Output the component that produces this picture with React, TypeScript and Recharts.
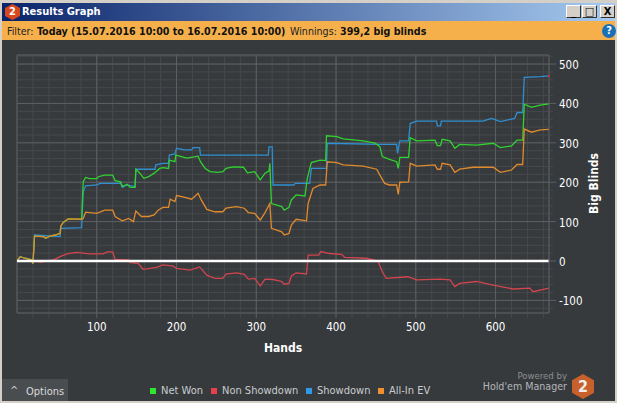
import React from "react";
import {
  LineChart,
  Line,
  XAxis,
  YAxis,
  CartesianGrid,
  ReferenceLine,
  ReferenceDot,
  Label,
} from "recharts";

// [hand, big blinds]
const netWon: number[][] = [
  [0, 0], [4, 11], [10, 7], [18, 3], [20, -6], [22, 63], [33, 62], [36, 58], [41, 63], [48, 66], [54, 70],
  [55, 89], [58, 98], [64, 107], [81, 106], [83, 201], [86, 212], [91, 209], [100, 209], [102, 214], [110, 218],
  [120, 218], [123, 204], [130, 201], [132, 189], [138, 195], [142, 187], [148, 187], [149, 233], [154, 223],
  [159, 210], [165, 214], [172, 223], [179, 235], [183, 237], [190, 235], [191, 256], [198, 252], [199, 269],
  [213, 261], [227, 266], [230, 252], [236, 235], [242, 227], [252, 225], [258, 227], [262, 235], [271, 239],
  [284, 238], [289, 224], [298, 227], [305, 206], [311, 223], [316, 229], [317, 248], [319, 146], [332, 138],
  [335, 129], [341, 136], [344, 155], [350, 168], [361, 165], [364, 210], [369, 250], [380, 256], [387, 255],
  [388, 318], [401, 316], [409, 310], [434, 305], [449, 299], [455, 290], [458, 265], [467, 258], [476, 252],
  [478, 235], [480, 263], [491, 263], [493, 313], [501, 305], [524, 307], [527, 293], [531, 293], [533, 309],
  [543, 305], [549, 286], [555, 296], [576, 294], [597, 299], [606, 288], [620, 292], [627, 307], [634, 307],
  [636, 398], [645, 390], [656, 396], [667, 399],
];

const nonShowdown: number[][] = [
  [0, 0], [20, 0], [30, -3], [40, 1], [46, 3], [56, 13], [64, 19], [75, 22], [91, 18], [108, 18], [113, 23],
  [120, 23], [123, 4], [140, 3], [142, -4], [152, -6], [158, -21], [175, -16], [183, -10], [196, -13], [200, -19],
  [217, -23], [229, -15], [238, -36], [248, -44], [258, -44], [262, -33], [275, -30], [285, -34], [290, -46],
  [298, -44], [305, -63], [311, -46], [321, -47], [332, -52], [335, -59], [341, -57], [344, -38], [350, -30],
  [363, -33], [365, 15], [378, 15], [381, 24], [392, 19], [407, 17], [411, 9], [438, 7], [453, 0], [455, -13],
  [459, -31], [463, -44], [490, -40], [501, -48], [530, -46], [543, -48], [549, -65], [555, -57], [576, -52],
  [597, -61], [622, -71], [643, -69], [647, -78], [667, -69],
];

const showdown: number[][] = [
  [0, 0], [4, 11], [10, 7], [18, 3], [20, -6], [22, 66], [54, 62], [55, 83], [81, 85], [83, 176], [86, 191],
  [100, 193], [104, 197], [130, 197], [132, 187], [138, 193], [148, 189], [149, 233], [173, 233], [174, 244],
  [183, 248], [190, 248], [191, 269], [198, 272], [200, 286], [210, 282], [219, 282], [221, 288], [229, 288],
  [230, 269], [315, 269], [316, 290], [320, 290], [321, 193], [347, 193], [349, 197], [367, 197], [369, 235],
  [388, 235], [389, 299], [455, 296], [476, 296], [477, 273], [480, 305], [491, 305], [493, 349], [501, 355],
  [526, 355], [527, 343], [531, 343], [532, 355], [584, 355], [595, 362], [606, 354], [624, 362], [627, 377],
  [634, 377], [636, 466], [656, 468], [667, 470],
];

const allInEv: number[][] = [
  [0, 0], [4, 11], [10, 7], [18, 3], [20, -6], [22, 63], [33, 62], [36, 58], [41, 63], [48, 66], [54, 70],
  [55, 89], [58, 98], [64, 107], [81, 106], [83, 108], [86, 124], [100, 121], [110, 129], [120, 129], [123, 113],
  [132, 102], [140, 108], [146, 100], [149, 127], [156, 113], [165, 113], [172, 117], [177, 129], [183, 136],
  [190, 136], [192, 157], [198, 151], [200, 166], [208, 163], [219, 157], [227, 172], [231, 155], [238, 131],
  [248, 125], [258, 125], [262, 134], [275, 138], [285, 134], [290, 123], [298, 121], [305, 104], [311, 123],
  [317, 146], [319, 83], [332, 74], [335, 66], [341, 70], [344, 91], [350, 106], [363, 102], [365, 146], [371, 184],
  [380, 193], [387, 193], [389, 252], [401, 250], [409, 244], [434, 241], [451, 233], [455, 218], [461, 197],
  [467, 193], [476, 193], [478, 169], [480, 200], [491, 201], [493, 248], [501, 241], [524, 244], [527, 233],
  [531, 233], [533, 248], [543, 244], [549, 225], [555, 233], [572, 238], [597, 238], [606, 225], [620, 231],
  [627, 245], [634, 245], [636, 335], [645, 327], [656, 333], [667, 334],
];

const handTicks = [20, 40, 60, 80, 100, 120, 140, 160, 180, 200, 220, 240, 260, 280, 300, 320, 340, 360, 380, 400, 420, 440, 460, 480, 500, 520, 540, 560, 580, 600, 620, 640, 660];
const blindTicks = [-120, -100, -80, -60, -40, -20, 0, 20, 40, 60, 80, 100, 120, 140, 160, 180, 200, 220, 240, 260, 280, 300, 320, 340, 360, 380, 400, 420, 440, 460, 480, 500, 520];
const majorHands = [100, 200, 300, 400, 500, 600];
const majorBlinds = [-100, 100, 200, 300, 400, 500];

const legendItems = [
  { name: "Net Won", color: "#2ee62e", left: 150 },
  { name: "Non Showdown", color: "#e8404a", left: 211 },
  { name: "Showdown", color: "#2f9ae8", left: 306 },
  { name: "All-In EV", color: "#f09030", left: 378 },
];

const FONT = "'DejaVu Sans Condensed', 'DejaVu Sans', sans-serif";
const GRID = "#46494c";
const GRID_MAJOR = "#5d6063";
const HEX = "polygon(50% 0, 100% 25%, 100% 75%, 50% 100%, 0 75%, 0 25%)";

const toRows = (points: number[][]) => points.map(([hand, value]) => ({ hand, value }));

const HandTick = ({ x, y, payload }: any) => {
  const major = payload.value % 100 === 0;
  return (
    <g>
      <line x1={x} x2={x} y1={y} y2={y + 5} stroke={major ? GRID_MAJOR : GRID} />
      {major && (
        <text x={x} y={y + 18} textAnchor="middle" fill="#fff" fontSize={11.5} fontFamily={FONT}>
          {payload.value}
        </text>
      )}
    </g>
  );
};

const BlindTick = ({ x, y, payload }: any) => {
  const major = payload.value % 100 === 0;
  return (
    <g>
      <line x1={x} x2={x + (major ? 7 : 4)} y1={y} y2={y} stroke={major ? GRID_MAJOR : GRID} />
      {major && (
        <text x={x + 10} y={y + 5} fill="#fff" fontSize={11.5} fontFamily={FONT}>
          {payload.value}
        </text>
      )}
    </g>
  );
};

const WinButton = ({ left, children }: { left: number; children: React.ReactNode }) => (
  <div
    style={{
      position: "absolute", left, top: 5, width: 15, height: 13, background: "#d4d0c8",
      borderTop: "1px solid #fff", borderLeft: "1px solid #fff", borderRight: "1px solid #333",
      borderBottom: "1px solid #333", boxSizing: "border-box", color: "#000", fontSize: 11,
      fontWeight: 700, lineHeight: "11px", textAlign: "center", fontFamily: FONT,
    }}
  >
    {children}
  </div>
);

const text = (left: number, top: number, bold: boolean, color: string, size = 11): React.CSSProperties => ({
  position: "absolute", left, top, color, fontFamily: FONT, fontSize: size, fontWeight: bold ? 700 : 400,
  whiteSpace: "nowrap", lineHeight: "14px",
});

export default function App() {
  return (
    <div style={{ position: "absolute", left: 0, top: 0, width: 617, height: 403, background: "#d4d0c8", overflow: "hidden" }}>
      <div style={{ position: "absolute", left: 2, top: 3, width: 613, height: 18, background: "linear-gradient(90deg, #0a246a, #a6caf0)" }} />
      <div style={{ position: "absolute", left: 5, top: 4, width: 15, height: 16, background: "#d8481c", clipPath: HEX, color: "#fff", fontFamily: FONT, fontWeight: 700, fontSize: 11, lineHeight: "16px", textAlign: "center" }}>2</div>
      <div style={text(22, 5, true, "#fff", 11)}>Results Graph</div>
      <WinButton left={566}>_</WinButton>
      <WinButton left={582}>□</WinButton>
      <WinButton left={600}>X</WinButton>

      <div style={{ position: "absolute", left: 2, top: 21, width: 613, height: 19, background: "#f5b04c" }} />
      <div style={text(7, 24, false, "#222", 10.6)}>Filter:</div>
      <div style={text(37, 24, true, "#111", 10.6)}>Today (15.07.2016 10:00 to 16.07.2016 10:00)</div>
      <div style={text(290, 24, false, "#222", 10.6)}>Winnings:</div>
      <div style={text(340, 24, true, "#111", 10.6)}>399,2 big blinds</div>
      <div style={{ position: "absolute", left: 602, top: 24, width: 14, height: 14, borderRadius: 7, background: "#1a6fb5", color: "#fff", fontFamily: FONT, fontWeight: 700, fontSize: 11, lineHeight: "14px", textAlign: "center" }}>?</div>

      <div style={{ position: "absolute", left: 2, top: 40, width: 613, height: 361, background: "#373a3d" }}>
        <div style={{ position: "absolute", left: 0, top: 339, width: 66, height: 22, background: "#4a4d50" }} />
        <div style={text(8, 344, false, "#c9ccce")}>^</div>
        <div style={text(24, 345, false, "#d8dadc")}>Options</div>
        <div style={{ ...text(0, 329, false, "#8b8e90", 9.5), left: "auto", right: 48 }}>Powered by</div>
        <div style={{ ...text(0, 339, false, "#b4b7b9", 10.6), left: "auto", right: 48 }}>Hold'em Manager</div>
        <div style={{ position: "absolute", left: 570, top: 334, width: 22, height: 25, background: "#c8602c", clipPath: HEX, color: "#eee", fontFamily: FONT, fontWeight: 700, fontSize: 16, lineHeight: "25px", textAlign: "center" }}>2</div>
      </div>

      <div style={{ position: "absolute", left: 0, top: 0 }}>
        <LineChart width={617} height={403} margin={{ top: 55, left: 17, right: 0, bottom: 0 }}>
          <CartesianGrid stroke={GRID} />
          <XAxis
            xAxisId={0}
            dataKey="hand"
            type="number"
            domain={[0, 667]}
            ticks={handTicks}
            height={90}
            tick={HandTick}
            tickLine={false}
            tickSize={0}
            tickMargin={0}
            interval={0}
            allowDataOverflow
            stroke={GRID_MAJOR}
          >
            <Label value="Hands" position="insideTop" offset={30} fill="#fff" fontSize={12} fontWeight={700} fontFamily={FONT} />
          </XAxis>
          <YAxis
            yAxisId={0}
            orientation="right"
            type="number"
            domain={[-132, 523]}
            ticks={blindTicks}
            width={68}
            tick={BlindTick}
            tickLine={false}
            tickSize={0}
            tickMargin={0}
            interval={0}
            allowDataOverflow
            stroke={GRID_MAJOR}
          >
            <Label value="Big Blinds" angle={-90} position="insideRight" offset={23} dy={-31} fill="#fff" fontSize={12} fontWeight={700} fontFamily={FONT} />
          </YAxis>
          {majorHands.map((h) => (
            <ReferenceLine key={h} x={h} stroke={GRID_MAJOR} />
          ))}
          {majorBlinds.map((b) => (
            <ReferenceLine key={b} y={b} stroke={GRID_MAJOR} />
          ))}
          <ReferenceLine x={0} stroke={GRID_MAJOR} />
          <ReferenceLine y={523} stroke={GRID_MAJOR} />
          <Line data={toRows(nonShowdown)} dataKey="value" name="Non Showdown" stroke="#d2454e" strokeWidth={1.3} dot={false} isAnimationActive={false} />
          <Line data={toRows(showdown)} dataKey="value" name="Showdown" stroke="#2f8fd0" strokeWidth={1.3} dot={false} isAnimationActive={false} />
          <Line data={toRows(netWon)} dataKey="value" name="Net Won" stroke="#2fd32f" strokeWidth={1.3} dot={false} isAnimationActive={false} />
          <Line data={toRows(allInEv)} dataKey="value" name="All-In EV" stroke="#e08a2e" strokeWidth={1.3} dot={false} isAnimationActive={false} />
          <ReferenceLine y={0} stroke="#fff" strokeWidth={2.5} />
          <ReferenceDot x={667} y={470} r={1} fill="#f02030" stroke="none" />
        </LineChart>
      </div>

      {legendItems.map((item) => (
        <div key={item.name} style={{ ...text(item.left, 384, false, "#c9ccce"), display: "flex", alignItems: "center" }}>
          <span style={{ width: 6, height: 6, background: item.color, marginRight: 5 }} />
          {item.name}
        </div>
      ))}
    </div>
  );
}
